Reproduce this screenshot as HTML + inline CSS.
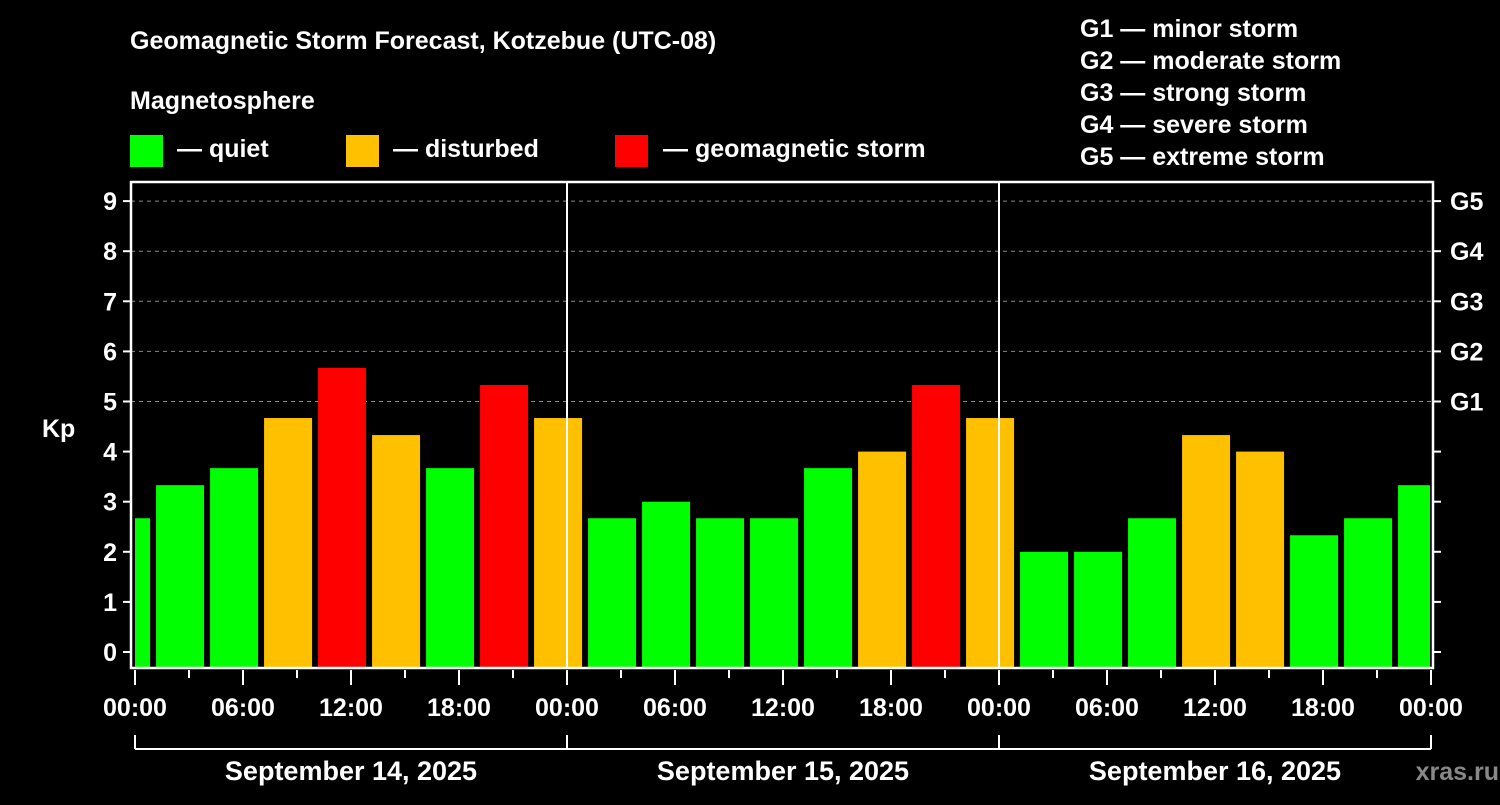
<!DOCTYPE html>
<html><head><meta charset="utf-8"><style>
body{margin:0;background:#000;width:1500px;height:800px;overflow:hidden}
svg text{font-family:"Liberation Sans",sans-serif;font-weight:bold;fill:#fff}
</style></head><body>
<svg id="c" width="1500" height="800">
<text x="130" y="49" font-size="25">Geomagnetic Storm Forecast, Kotzebue (UTC-08)</text>
<text x="130" y="109" font-size="25">Magnetosphere</text>
<g><rect x="130" y="135" width="33" height="32" fill="#00ff00"/><text x="177" y="157" font-size="25">— quiet</text></g>
<g><rect x="346" y="135" width="33" height="32" fill="#ffc000"/><text x="393" y="157" font-size="25">— disturbed</text></g>
<g><rect x="615" y="135" width="33" height="32" fill="#ff0000"/><text x="663" y="157" font-size="25">— geomagnetic storm</text></g>
<g font-size="25">
<text x="1080" y="37">G1 — minor storm</text><text x="1080" y="69">G2 — moderate storm</text><text x="1080" y="101">G3 — strong storm</text><text x="1080" y="133">G4 — severe storm</text><text x="1080" y="165">G5 — extreme storm</text></g>
<text x="42" y="437" font-size="25">Kp</text>
<text x="1499" y="780" font-size="25" text-anchor="end" fill="#808080" style="fill:#888">xras.ru</text>
<g id="grid"></g><g id="bars"></g><g id="axes"></g>
</svg>
<script>
const kpValues=[2.67,3.33,3.67,4.67,5.67,4.33,3.67,5.33,4.67,2.67,3.0,2.67,2.67,3.67,4.0,5.33,4.67,2.0,2.0,2.67,4.33,4.0,2.33,2.67,3.33];
const yTicks=[0,1,2,3,4,5,6,7,8,9];
const gLabels=["G1","G2","G3","G4","G5"];
const xTickLabels=["00:00","06:00","12:00","18:00","00:00","06:00","12:00","18:00","00:00","06:00","12:00","18:00","00:00"];
const dayLabels=["September 14, 2025","September 15, 2025","September 16, 2025"];
const L=131,R=1433,T=182,B=668,X0=135,DAY=432;
const y=k=>652-50.1*k;
const xh=h=>X0+DAY*h/24;
const NS="http://www.w3.org/2000/svg";
function mk(p,tag,a){const e=document.createElementNS(NS,tag);for(const k in a)e.setAttribute(k,a[k]);document.getElementById(p).appendChild(e);return e;}
yTicks.forEach(k=>{if(k>=5){const g=mk('grid','line',{x1:L,x2:R,y1:y(k),y2:y(k),stroke:'#888','stroke-dasharray':'4,4'});

}});
kpValues.forEach((v,i)=>{let x1=xh(3*(i-1)+1.17),x2=xh(3*i+1.17)-6;x1=Math.max(x1,X0);x2=Math.min(x2,R+1-4);
const col=v>=5?'#ff0000':v>=4?'#ffc000':'#00ff00';
const r=mk('bars','rect',{x:x1,y:y(v),width:x2-x1,height:B-y(v),fill:col});

});
mk('axes','rect',{x:L,y:T,width:R-L,height:B-T,fill:'none',stroke:'#fff','stroke-width':2.5});
[1,2].forEach(d=>{const l=mk('axes','line',{x1:X0+d*DAY,x2:X0+d*DAY,y1:T,y2:B,stroke:'#fff','stroke-width':2});

});
yTicks.forEach(k=>{mk('axes','line',{x1:L-8,x2:L,y1:y(k),y2:y(k),stroke:'#fff','stroke-width':2});
mk('axes','line',{x1:R,x2:R+8,y1:y(k),y2:y(k),stroke:'#fff','stroke-width':2});
const t=mk('axes','text',{x:L-14,y:y(k)+9,'font-size':25,'text-anchor':'end'});t.textContent=k;

});
gLabels.forEach((g,i)=>{const t=mk('axes','text',{x:1450,y:y(i+5)+9,'font-size':25});t.textContent=g;

});
for(let h=0;h<=72;h+=3){const major=h%6==0;mk('axes','line',{x1:xh(h),x2:xh(h),y1:B+2,y2:B+(major?17:10),stroke:'#fff','stroke-width':2});}
xTickLabels.forEach((s,i)=>{const t=mk('axes','text',{x:xh(6*i),y:716,'font-size':25,'text-anchor':'middle'});t.textContent=s;

});
mk('axes','line',{x1:X0,x2:X0+3*DAY,y1:749,y2:749,stroke:'#fff','stroke-width':2});
for(let d=0;d<=3;d++)mk('axes','line',{x1:X0+d*DAY,x2:X0+d*DAY,y1:735,y2:749,stroke:'#fff','stroke-width':2});
dayLabels.forEach((s,i)=>{const t=mk('axes','text',{x:X0+DAY*(i+0.5),y:780,'font-size':27,'text-anchor':'middle'});t.textContent=s;

});
</script>
</body></html>
